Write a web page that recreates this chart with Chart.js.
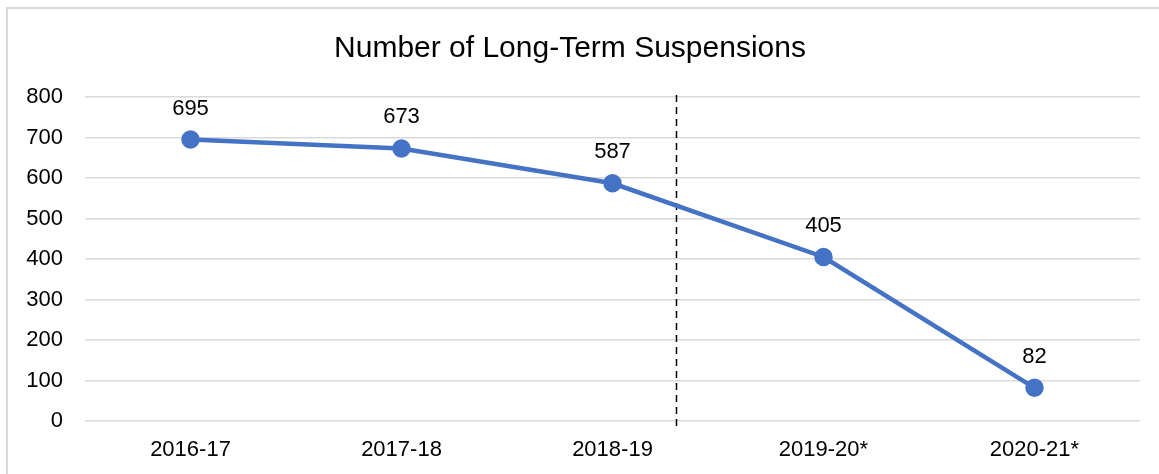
<!DOCTYPE html>
<html>
<head>
<meta charset="utf-8">
<script src="https://cdn.jsdelivr.net/npm/chart.js@4"></script>
<style>
    body { margin: 0; background: #fff; }
    #wrap { position: relative; width: 1159px; height: 474px; }
    #frame {
        position: absolute; left: 6px; top: 7px; right: 0; bottom: 0;
        border-top: 2px solid #d9d9d9; border-left: 2px solid #d9d9d9;
    }
    #chart { position: absolute; left: 0; top: 0; }
</style>
</head>
<body>
<div id="wrap">
    <div id="frame"></div>
    <canvas id="chart" width="1159" height="474"></canvas>
</div>
<script>
var years = ['2016-17', '2017-18', '2018-19', '2019-20*', '2020-21*'];
var suspensions = [695, 673, 587, 405, 82];
var yTicks = [0, 100, 200, 300, 400, 500, 600, 700, 800];
var dividerAt = 2.3; // dashed line, in category units

var FONT = '"Liberation Sans", Arial, sans-serif';

// labels above each point
var pointLabels = {
    id: 'pointLabels',
    afterDatasetsDraw: function (chart) {
        var ctx = chart.ctx;
        var meta = chart.getDatasetMeta(0);
        ctx.save();
        ctx.font = '22px ' + FONT;
        ctx.fillStyle = '#000';
        ctx.textAlign = 'center';
        ctx.textBaseline = 'middle';
        meta.data.forEach(function (pt, i) {
            ctx.fillText(suspensions[i], pt.x, pt.y - 31);
        });
        ctx.restore();
    }
};

// dashed vertical separator
var divider = {
    id: 'divider',
    beforeDatasetsDraw: function (chart) {
        var ctx = chart.ctx;
        var x = chart.scales.x.getPixelForValue(dividerAt);
        var y = chart.scales.y;
        ctx.save();
        ctx.strokeStyle = '#000';
        ctx.lineWidth = 1.5;
        ctx.setLineDash([7, 5]);
        ctx.beginPath();
        ctx.moveTo(Math.round(x) + 0.5, y.getPixelForValue(805));
        ctx.lineTo(Math.round(x) + 0.5, y.getPixelForValue(0) + 6);
        ctx.stroke();
        ctx.restore();
    }
};

var ctx = document.getElementById('chart').getContext('2d');
var chart = new Chart(ctx, {
    type: 'line',
    data: {
        labels: years,
        datasets: [{
            data: suspensions,
            borderColor: '#4472c4',
            backgroundColor: '#4472c4',
            borderWidth: 4.5,
            pointRadius: 7,
            pointHoverRadius: 7,
            tension: 0,
            fill: false
        }]
    },
    options: {
        responsive: false,
        animation: false,
        layout: { padding: { left: 0, right: 19, top: 0, bottom: 0 } },
        plugins: {
            legend: { display: false },
            tooltip: { enabled: false },
            title: {
                display: true,
                text: 'Number of Long-Term Suspensions',
                color: '#000',
                font: { family: FONT, size: 30, weight: 'normal' },
                padding: { top: 31, bottom: 30 }
            }
        },
        scales: {
            x: {
                offset: true,
                afterFit: function (s) { s.height = 53; },
                grid: { display: false, drawTicks: false },
                border: { display: false },
                ticks: {
                    color: '#000',
                    font: { family: FONT, size: 22 },
                    padding: 16
                }
            },
            y: {
                min: 0,
                max: 800,
                afterBuildTicks: function (s) {
                    s.ticks = yTicks.map(function (v) { return { value: v }; });
                },
                afterFit: function (s) { s.width = 85; },
                grid: { color: '#d9d9d9', lineWidth: 1.5, drawTicks: false },
                border: { display: false },
                ticks: {
                    color: '#000',
                    font: { family: FONT, size: 22 },
                    padding: 22
                }
            }
        }
    },
    plugins: [divider, pointLabels]
});
</script>
</body>
</html>
